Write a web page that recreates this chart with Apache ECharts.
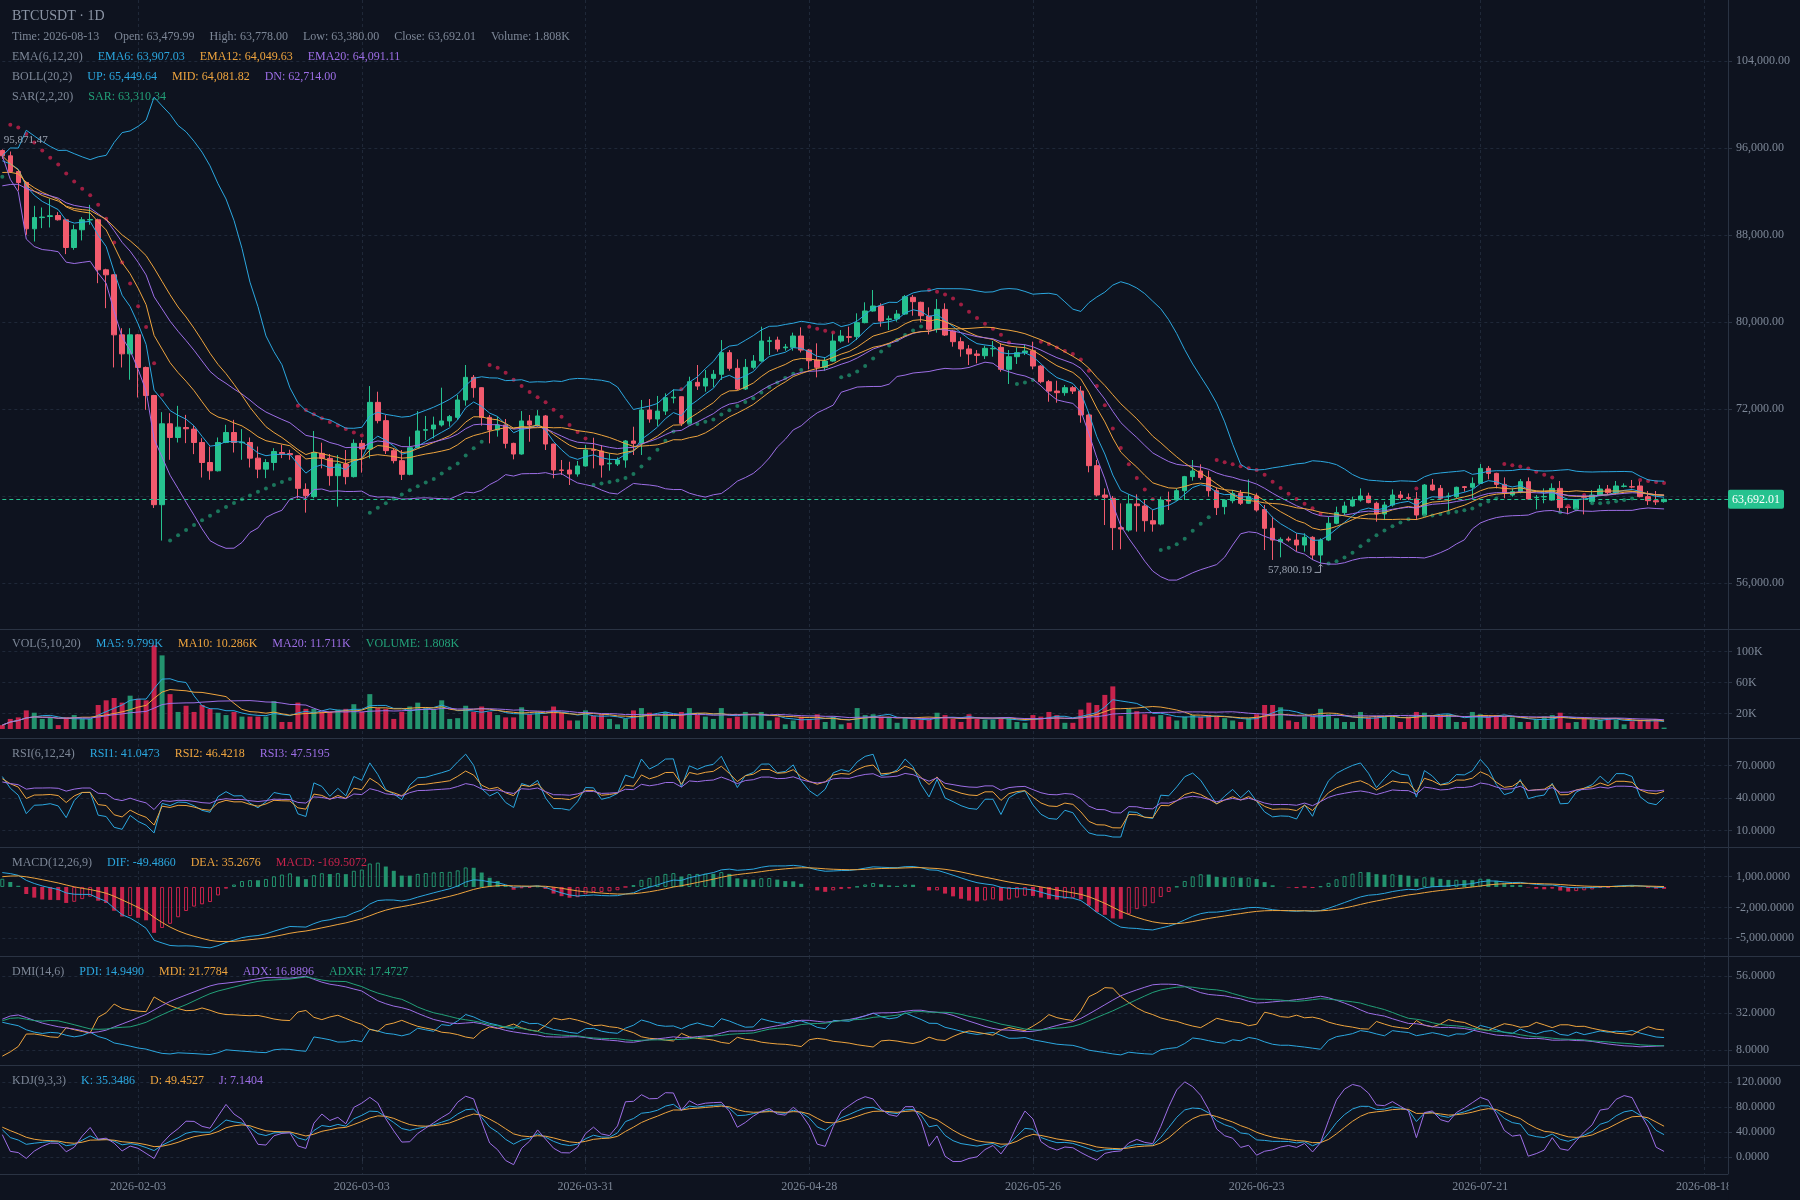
<!DOCTYPE html>
<html><head><meta charset="utf-8">
<script src="https://cdn.jsdelivr.net/npm/echarts@6/dist/echarts.min.js"></script>
<style>html,body{margin:0;padding:0;background:#0e131f}#c{width:1800px;height:1200px}</style>
</head><body><div id="c"></div>
<script>
// ---------- data ----------
const axisDays = 217;
const labelDates = ['2026-02-03','2026-03-03','2026-03-31','2026-04-28','2026-05-26','2026-06-23','2026-07-21','2026-08-18'];

const opens = [95770,95280,93840,92830,88570,89600,89700,89790,89400,86850,88480,89380,89400,84800,84340,78820,77070,78820,75820,73240,
63200,70640,69380,70300,70150,68920,67080,66320,68920,69840,68900,68920,67480,66470,67080,68000,67900,67700,64610,63940,
67920,67460,65870,66940,65780,68840,68320,72610,70930,68170,67250,65990,68440,70050,70160,70530,70900,71230,72830,74910,
73960,71230,70070,70530,68840,67860,70900,70530,71360,68780,66400,66390,66020,66760,68260,68140,66960,66940,67310,69060,
68840,71910,71080,71810,73020,73130,70680,74450,74110,74820,75190,77180,75740,73840,75830,76410,78220,78340,77630,77670,
78710,77420,76500,75830,76410,78250,78650,78650,79940,81010,81470,80230,80290,80730,82270,81810,80550,79330,81160,79170,
78190,77520,77060,76900,77530,77670,75650,76810,77180,77360,75950,74510,73650,73500,73960,73650,71450,66790,64090,63790,
61090,60870,63270,63080,61730,61420,63630,63630,64490,65780,66300,65690,64490,63020,63570,64240,63330,64000,62770,61030,
59800,60050,59950,59490,60200,58570,59950,61490,62470,63080,63630,64000,63330,62350,63170,64090,63850,63730,62250,65010,
64700,63970,63940,64860,64800,65160,66540,66080,65070,64090,64400,65320,63850,63920,63630,64700,62990,62800,63940,63480,
64090,64640,64300,64880,64860,64920,63940,63570,63479.99];
const highs = [95871.47,95680,93900,92900,90680,90530,91330,90100,89500,88940,89640,90770,89500,84900,84400,79430,79430,78900,75900,73300,
71710,71620,72290,71460,70490,69320,68550,69380,70550,71000,70150,69380,68550,67390,68400,68710,68250,67750,65165,69980,
68900,67860,67770,68230,69210,69150,74110,73590,71450,68380,68230,69460,71810,71360,71300,73960,71450,73290,76045,75125,
74000,71450,71300,71080,68900,71810,71450,71900,71450,68800,67310,67150,67220,68690,69360,68690,67920,67550,69150,70370,
72830,72920,73200,73440,73810,73150,74970,76045,75590,75590,78340,77420,76570,76600,76960,79570,78650,78650,77980,79020,
79510,77520,78040,76750,79020,79260,79570,80800,81810,82940,81720,80580,81100,82480,82480,81870,81350,82110,81720,79250,
78590,77880,77420,77820,78250,78040,77420,77670,77940,78190,76040,74670,74600,74210,74110,74110,71600,67310,64700,64000,
63320,64150,64150,63630,62710,63940,64400,64700,65850,67310,66910,66330,64800,63700,64550,64550,65530,64250,63170,62100,
60200,60260,60570,60570,60300,60110,62100,63020,63480,63940,64700,64300,63480,63480,64610,64460,64240,64370,65100,65560,
65010,64310,64860,64920,65710,66940,66760,66140,65710,64700,65560,65710,64090,64700,65160,65380,63080,63700,64090,64550,
65010,65010,65380,65160,65470,65380,64460,64460,63778.00];
const lows = [95000,93700,92090,88020,87400,88630,88690,89330,86240,86640,87500,88940,83570,81270,75820,75820,74690,73060,71920,62900,
59900,67330,68920,68860,67850,65700,65490,66250,68860,68000,67330,66620,65640,65640,66350,67480,67330,63790,62470,63790,
66540,64950,63020,65070,65700,66150,67460,70680,67860,67000,65470,65900,68380,69150,69300,70380,70380,70990,72305,73040,
70470,68840,69460,68380,67370,67800,68990,70380,68230,65630,65930,65010,65780,66700,66540,65690,66330,66760,66600,67770,
67770,70740,70430,71450,72520,70430,70620,73750,73590,74000,74670,75520,73750,73750,75650,76350,76960,77270,77360,77360,
77200,75650,74910,75520,76350,78100,78100,78340,79880,80950,79570,79260,80030,80640,80580,79970,78860,79020,78710,77730,
76810,76040,76200,76600,76810,75430,74300,76140,76960,75650,74360,72670,72580,73220,73380,70740,66180,63950,61330,59030,
59100,60720,60720,60720,60720,61300,62710,63570,63630,65410,65470,63940,62250,62310,63330,63170,63260,62560,59030,58120,
58360,59800,58880,58880,58120,57800.19,59850,61400,62250,63020,63480,63330,61640,61790,63020,63630,63630,61790,62200,64460,
63700,62560,63790,64400,63790,65100,65530,64700,63790,63940,64250,63650,62770,63330,63570,62500,62310,62750,62310,63330,
63990,64180,64150,64790,64700,63880,63170,63170,63380.00];
const closes = [95280,93840,92830,88570,89610,89650,89770,89400,86850,88480,89400,89420,84800,84340,78820,77070,78820,75820,73240,63200,
70640,69380,70330,70180,68920,67080,66320,68920,69840,68920,68950,67480,66470,67080,68090,67880,67800,64705,64030,67985,
67460,65870,66940,65780,68840,68320,72610,70930,68170,67250,65990,68440,69980,70100,70530,70900,71300,72830,74910,73960,
71230,70070,70530,68840,67860,70900,70530,71360,68780,66390,66350,66020,66760,68230,68200,66850,67010,67310,69060,68840,
71910,71080,71810,73040,73080,70680,74510,74110,74820,75190,77180,75740,73840,75830,76410,78250,78280,77520,77700,78710,
77420,76440,75830,76410,78250,78710,78590,79940,81010,81470,80090,80290,80730,82330,81870,80580,79330,81160,78800,78190,
77520,77060,76930,77580,77580,75650,76810,77180,77330,75950,74510,73650,73500,73960,73650,71450,66790,64090,63880,61090,
60960,63270,63110,61730,61420,63630,63540,64490,65780,66300,65690,64490,62930,63630,64240,63330,63940,62710,61030,59950,
60010,59950,59490,60200,58570,59950,61490,62470,63080,63630,64000,63390,62350,63170,64090,63850,63790,62250,65010,64550,
63790,64000,64800,64780,65160,66540,66080,65070,64240,64400,65320,63720,63880,63960,64700,62930,62960,63630,63880,64090,
64640,64300,64920,64920,64820,63940,63570,63460,63692.01];
// volume in thousands
const volumes = [5,13,15,24,21,13,15,5,15,18,13,13,31,37,40,34,43,39,37,108,
95,45,22,30,22,31,26,21,18,22,16,16,16,16,36,9,9,34,26,26,
22,22,25,26,32,22,45,27,26,13,22,29,34,28,26,37,13,14,30,22,
29,22,18,15,15,28,19,22,17,29,22,11,11,24,17,19,13,6,13,24,
27,21,16,22,13,22,27,18,16,13,27,14,16,22,16,22,11,15,6,11,
16,13,19,9,16,6,8,27,18,19,16,15,8,15,12,12,12,21,18,13,
9,19,13,12,12,13,14,9,8,18,16,22,18,8,8,25,34,31,44,55,
17,26,23,19,16,18,16,11,16,18,16,18,16,14,11,9,14,19,31,31,
28,11,9,16,16,26,19,14,9,9,22,15,16,16,18,9,16,22,21,18,
18,19,9,9,22,19,16,18,16,15,9,9,12,16,18,21,8,9,15,12,
12,14,12,6,10,12,12,13,1.808];

// indicator starting values at the first visible bar
const emaStart6 = 94820, emaStart12 = 93750, emaStart20 = 92520, emaStart26 = 92350, deaStart = 1000;
const sarStart = 93360, sarStartEp = 98130, sarStartAf = 0.2;
const rsiStart = [60, 58, 55];
const dmiStart = [26, 4, 28, 27]; // PDI, MDI, ADX, ADXR

// axis tick labels
const priceTicks = [56000,64000,72000,80000,88000,96000,104000];
const volTicks = [20,60,100];
const rsiTicks = [10,40,70];
const macdTicks = [-5000,-2000,1000];
const dmiTicks = [8,32,56];
const kdjTicks = [0,40,80,120];

// legend values shown in the picture
const emaLegend = ['63,907.03','64,049.63','64,091.11'];
const bollLegend = ['65,449.64','64,081.82','62,714.00'];
const sarLegend = ['63,310.34'];
const volLegend = ['9.799K','10.286K','11.711K','1.808K'];
const rsiLegend = ['41.0473','46.4218','47.5195'];
const macdLegend = ['-49.4860','35.2676','-169.5072'];
const dmiLegend = ['14.9490','21.7784','16.8896','17.4727'];
const kdjLegend = ['35.3486','49.4527','7.1404'];

// ---------- styles ----------
const FONT = "'Liberation Serif', 'DejaVu Serif', serif";
const UP='#26c28f', DOWN='#f25b6e', VUP='#23936e', VDOWN='#c8234c';
const CYAN='#2ba7df', ORANGE='#eea43e', PURPLE='#9d6ee6', GREEN2='#22a078';
const BG='#0e131f', GRIDC='#1f2838', AXISC='#2a3343', LABELC='#7d8797', NAMEC='#7d8797';
const SAR_UPC='#1f8f6c', SAR_DNC='#c4224b';

const N = closes.length;
const dates = [];
{ const t0 = Date.UTC(2026,0,17); for (let k=0;k<axisDays;k++) dates.push(new Date(t0+k*86400000).toISOString().slice(0,10)); }
const fmt = (v,d) => Number(v).toLocaleString('en-US',{minimumFractionDigits:d,maximumFractionDigits:d});

// ---------- indicators ----------
function ema(src,n,seed){const a=2/(n+1);const o=[seed];let p=seed;for(let i=1;i<src.length;i++){p=a*src[i]+(1-a)*p;o.push(p);}return o;}
const ema6=ema(closes,6,emaStart6), ema12=ema(closes,12,emaStart12), ema20=ema(closes,20,emaStart20), ema26=ema(closes,26,emaStart26);
const bMid=[],bUp=[],bDn=[];
for(let i=0;i<N;i++){const s=closes.slice(Math.max(0,i-19),i+1);const m=s.reduce((a,b)=>a+b,0)/s.length;const sd=Math.sqrt(s.reduce((a,b)=>a+(b-m)*(b-m),0)/s.length);bMid.push(m);bUp.push(m+2*sd);bDn.push(m-2*sd);}
// SAR
const sarVals=[];
{let up=true,sar=sarStart,ep=sarStartEp,af=sarStartAf;sarVals.push({v:sar,up});
 for(let i=1;i<N;i++){
  if(up){ if(ep===null||highs[i]>ep){ep=highs[i];af=Math.min(af+0.02,0.2);} sar=sar+af*(ep-sar);
    const lm=Math.min(lows[i-1],lows[i]);
    if(sar>lows[i]){sar=ep;af=0.02;ep=null;up=false;} else if(sar>lm) sar=lm; }
  else { if(ep===null||lows[i]<ep){ep=lows[i];af=Math.min(af+0.02,0.2);} sar=sar+af*(ep-sar);
    const hm=Math.max(highs[i-1],highs[i]);
    if(sar<highs[i]){sar=ep;af=0.02;ep=null;up=true;} else if(sar<hm) sar=hm; }
  sarVals.push({v:sar,up});
 }}
function sma(src,n){const o=[];for(let i=0;i<src.length;i++){const s=src.slice(Math.max(0,i-n+1),i+1);o.push(s.reduce((a,b)=>a+b,0)/s.length);}return o;}
const vma5=sma(volumes,5), vma10=sma(volumes,10), vma20=sma(volumes,20);
// RSI with weighted moving average (SMA(x,N,1))
function rsiW(n,start){const o=[start];
 let m=0;const k=Math.min(N-1,n);for(let i=1;i<=k;i++)m+=Math.abs(closes[i]-closes[i-1]);m/=k;
 let au=m*start/100, aa=m;
 for(let i=1;i<N;i++){const d=closes[i]-closes[i-1];au=(Math.max(d,0)+(n-1)*au)/n;aa=(Math.abs(d)+(n-1)*aa)/n;o.push(aa?100*au/aa:50);}
 return o;}
const rsi1=rsiW(6,rsiStart[0]), rsi2=rsiW(12,rsiStart[1]), rsi3=rsiW(24,rsiStart[2]);
const dif=ema12.map((v,i)=>v-ema26[i]);
const dea=ema(dif,9,deaStart);
const macd=dif.map((v,i)=>2*(v-dea[i]));
// DMI (Wilder smoothing, period 14; ADXR with period 6)
const pdi=[dmiStart[0]],mdi=[dmiStart[1]],adx=[dmiStart[2]],adxr=[dmiStart[3]];
{ let m=0;for(let i=1;i<=14;i++)m+=Math.max(highs[i]-lows[i],Math.abs(highs[i]-closes[i-1]),Math.abs(lows[i]-closes[i-1]));m/=14;
  let eTr=m, eH=m*dmiStart[0]/100, eL=m*dmiStart[1]/100, eAdx=dmiStart[2];
  const a=1/14;
  for(let i=1;i<N;i++){const tr=Math.max(highs[i]-lows[i],Math.abs(highs[i]-closes[i-1]),Math.abs(lows[i]-closes[i-1]));
    const hd=highs[i]-highs[i-1], ld=lows[i-1]-lows[i];
    eTr+=a*(tr-eTr); eH+=a*((hd>0&&hd>ld?hd:0)-eH); eL+=a*((ld>0&&ld>hd?ld:0)-eL);
    const P=100*eH/eTr, M=100*eL/eTr; const dx=P+M?Math.abs(M-P)/(P+M)*100:0;
    eAdx+=a*(dx-eAdx);
    pdi.push(P);mdi.push(M);adx.push(eAdx);
    adxr.push(i>=5?(eAdx+adx[i-5])/2:(eAdx+dmiStart[3])/2);} }
// KDJ
const kA=[],dA=[],jA=[];
{let k=50,d=50;for(let i=0;i<N;i++){const f=Math.max(0,i-8);let hh=-Infinity,ll=Infinity;for(let j=f;j<=i;j++){hh=Math.max(hh,highs[j]);ll=Math.min(ll,lows[j]);}
 const rsv=hh===ll?50:(closes[i]-ll)/(hh-ll)*100;k=(2*k+rsv)/3;d=(2*d+k)/3;kA.push(k);dA.push(d);jA.push(3*k-2*d);}}

// max / min marks
let maxI=0,minI=0;for(let i=0;i<N;i++){if(highs[i]>highs[maxI])maxI=i;if(lows[i]<lows[minI])minI=i;}

// ---------- layout ----------
const panels=[[0,629],[629,109],[738,109],[847,109],[956,109],[1065,109]];
const grids=panels.map(p=>({left:2.3,right:72,top:p[0],height:p[1],show:false,outerBoundsMode:'none',containLabel:false}));
const isLabel=(idx,val)=>labelDates.indexOf(val)>=0;
const xAxes=panels.map((p,gi)=>({type:'category',gridIndex:gi,data:dates,boundaryGap:false,
  axisLine:{show:false},
  axisTick:{show:gi===5,interval:isLabel,length:4,lineStyle:{color:AXISC}},
  axisLabel:{show:gi===5,interval:isLabel,color:LABELC,fontSize:12,fontFamily:FONT,margin:7},
  splitLine:{show:true,interval:isLabel,lineStyle:{color:GRIDC,type:[3,3],width:1}}}));
function yAx(gi,min,max,ticks,f){return {type:'value',gridIndex:gi,position:'right',min,max,
  axisLine:{show:true,lineStyle:{color:AXISC}},
  axisTick:{show:true,length:4,customValues:ticks,lineStyle:{color:AXISC}},
  axisLabel:{customValues:ticks,color:LABELC,fontSize:12,fontFamily:FONT,margin:8,formatter:f},
  splitLine:{show:true,lineStyle:{color:GRIDC,type:[3,3],width:1}}};}
const yAxes=[
  yAx(0,51770,109609,priceTicks,v=>fmt(v,2)),
  yAx(1,-11.613,129.03,volTicks,v=>Math.round(v)+'K'),
  yAx(2,-5.05,95.57,rsiTicks,v=>v.toFixed(4)),
  yAx(3,-6724,3893,macdTicks,v=>fmt(v,4)),
  yAx(4,-1.73,69,dmiTicks,v=>v.toFixed(4)),
  yAx(5,-26.6,147.1,kdjTicks,v=>v.toFixed(4))
];
function line(gi,data,color,name){return {name,type:'line',xAxisIndex:gi,yAxisIndex:gi,data,symbol:'none',showSymbol:false,silent:true,
  lineStyle:{width:1,color},itemStyle:{color},emphasis:{disabled:true}};}

const candleData=opens.map((o,i)=>[o,closes[i],lows[i],highs[i]]);
const last=N-1;
const series=[
 {type:'candlestick',xAxisIndex:0,yAxisIndex:0,data:candleData,barWidth:5,clip:false,silent:true,
  itemStyle:{color:UP,color0:DOWN,borderColor:UP,borderColor0:DOWN,borderWidth:1},
  markLine:{silent:true,symbol:['none','none'],data:[{yAxis:closes[last]}],
    lineStyle:{color:UP,type:[4,3],width:1},
    label:{show:true,position:'end',distance:0,formatter:fmt(closes[last],2),color:'#ffffff',backgroundColor:UP,
      padding:[4,4,3,4],fontSize:12,fontFamily:FONT,borderRadius:2}},
  markPoint:{silent:true,symbol:'circle',symbolSize:1,itemStyle:{color:'rgba(0,0,0,0)'},
    label:{color:'#9aa2b0',fontSize:11,fontFamily:FONT},
    data:[
      {coord:[dates[maxI],highs[maxI]],value:highs[maxI],label:{position:'right',distance:1,offset:[0,-9],formatter:fmt(highs[maxI],2)}},
      {coord:[dates[minI],lows[minI]],value:lows[minI],label:{position:'left',distance:8,offset:[0,7],formatter:fmt(lows[minI],2)}},
      {coord:[dates[minI],lows[minI]],symbol:'path://M6,0 L6,8 L0,8 M4,2 L6,0 L8,2',symbolSize:[8,8],symbolOffset:[-2,5],
        itemStyle:{color:'rgba(0,0,0,0)',borderColor:'#9aa2b0',borderWidth:1},label:{show:false}}
    ]}},
 line(0,ema6,CYAN,'EMA6'), line(0,ema12,ORANGE,'EMA12'), line(0,ema20,PURPLE,'EMA20'),
 line(0,bUp,CYAN,'UP'), line(0,bMid,ORANGE,'MID'), line(0,bDn,PURPLE,'DN'),
 {type:'scatter',xAxisIndex:0,yAxisIndex:0,symbolSize:4,silent:true,
  data:sarVals.map(s=>({value:s.v,itemStyle:{color:s.up?SAR_UPC:SAR_DNC}}))},
 {type:'bar',xAxisIndex:1,yAxisIndex:1,barWidth:5,silent:true,
  data:volumes.map((v,i)=>({value:v,itemStyle:{color:closes[i]>=opens[i]?VUP:VDOWN}}))},
 line(1,vma5,CYAN), line(1,vma10,ORANGE), line(1,vma20,PURPLE),
 line(2,rsi1,CYAN), line(2,rsi2,ORANGE), line(2,rsi3,PURPLE),
 {type:'bar',xAxisIndex:3,yAxisIndex:3,barWidth:4,silent:true,
  data:macd.map((v,i)=>{const c=v>=0?VUP:VDOWN;const prev=i?macd[i-1]:-Infinity;
    return {value:v,itemStyle:prev<v?{color:'rgba(0,0,0,0)',borderColor:c,borderWidth:1}:{color:c,borderWidth:0}};})},
 line(3,dif,CYAN), line(3,dea,ORANGE),
 line(4,pdi,CYAN), line(4,mdi,ORANGE), line(4,adx,PURPLE), line(4,adxr,GREEN2),
 line(5,kA,CYAN), line(5,dA,ORANGE), line(5,jA,PURPLE)
];

function row(yc,parts,size){const lh=size+4;const rich={};let text='';
  parts.forEach((p,k)=>{rich['r'+k]={color:p[1],fontSize:size,fontFamily:FONT,fontWeight:'normal',lineHeight:lh,padding:[0,0,0,k?15:0]};text+='{r'+k+'|'+p[0]+'}';});
  return {text,left:12,top:yc-lh/2,padding:0,textStyle:{rich,fontSize:size,fontFamily:FONT,fontWeight:'normal',lineHeight:lh}};}
const titles=[
 row(16,[['BTCUSDT · 1D','#8c95a5']],14),
 row(36.7,[['Time: '+dates[last],NAMEC],['Open: '+fmt(opens[last],2),NAMEC],['High: '+fmt(highs[last],2),NAMEC],['Low: '+fmt(lows[last],2),NAMEC],['Close: '+fmt(closes[last],2),NAMEC],['Volume: '+volumes[last].toFixed(3)+'K',NAMEC]],12),
 row(57.3,[['EMA(6,12,20)',NAMEC],['EMA6: '+emaLegend[0],CYAN],['EMA12: '+emaLegend[1],ORANGE],['EMA20: '+emaLegend[2],PURPLE]],12),
 row(77.3,[['BOLL(20,2)',NAMEC],['UP: '+bollLegend[0],CYAN],['MID: '+bollLegend[1],ORANGE],['DN: '+bollLegend[2],PURPLE]],12),
 row(97.3,[['SAR(2,2,20)',NAMEC],['SAR: '+sarLegend[0],GREEN2]],12),
 row(644,[['VOL(5,10,20)',NAMEC],['MA5: '+volLegend[0],CYAN],['MA10: '+volLegend[1],ORANGE],['MA20: '+volLegend[2],PURPLE],['VOLUME: '+volLegend[3],GREEN2]],12),
 row(754,[['RSI(6,12,24)',NAMEC],['RSI1: '+rsiLegend[0],CYAN],['RSI2: '+rsiLegend[1],ORANGE],['RSI3: '+rsiLegend[2],PURPLE]],12),
 row(863,[['MACD(12,26,9)',NAMEC],['DIF: '+macdLegend[0],CYAN],['DEA: '+macdLegend[1],ORANGE],['MACD: '+macdLegend[2],VDOWN]],12),
 row(972,[['DMI(14,6)',NAMEC],['PDI: '+dmiLegend[0],CYAN],['MDI: '+dmiLegend[1],ORANGE],['ADX: '+dmiLegend[2],PURPLE],['ADXR: '+dmiLegend[3],GREEN2]],12),
 row(1081,[['KDJ(9,3,3)',NAMEC],['K: '+kdjLegend[0],CYAN],['D: '+kdjLegend[1],ORANGE],['J: '+kdjLegend[2],PURPLE]],12)
];
const graphic=[
 ...[629,738,847,956,1065].map(y=>({type:'line',silent:true,z:50,shape:{x1:0,y1:y+0.5,x2:1800,y2:y+0.5},style:{stroke:AXISC,lineWidth:1}})),
 {type:'line',silent:true,z:50,shape:{x1:0,y1:1174.5,x2:1728,y2:1174.5},style:{stroke:AXISC,lineWidth:1}},
 {type:'rect',silent:true,z:100,shape:{x:1728.5,y:1176,width:72,height:24},style:{fill:BG}}
];

const chart=echarts.init(document.getElementById('c'),null,{renderer:'canvas',width:1800,height:1200});
chart.setOption({backgroundColor:BG,animation:false,textStyle:{fontFamily:FONT},
  title:titles,grid:grids,xAxis:xAxes,yAxis:yAxes,series,graphic});
</script></body></html>
